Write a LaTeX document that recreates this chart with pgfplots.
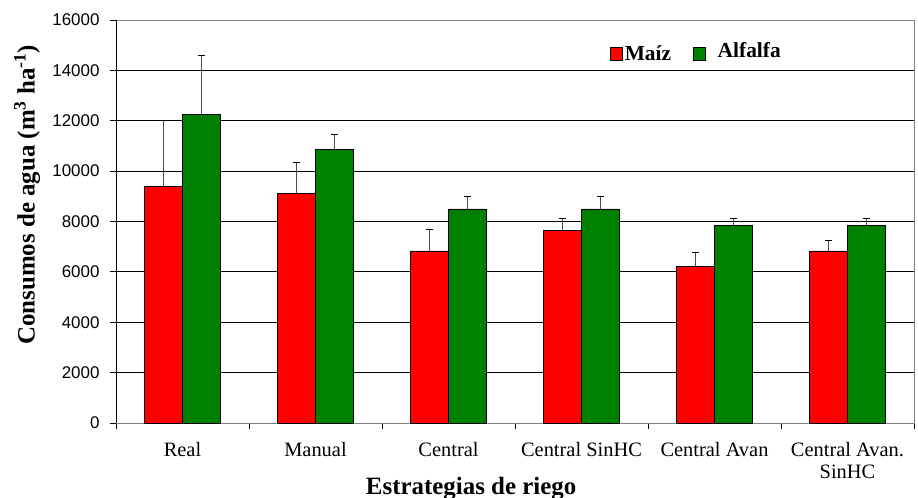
\documentclass[border=0pt]{standalone}
\usepackage{fontspec}
\setmainfont{Liberation Serif}
\setsansfont{Liberation Sans}
\usepackage{pgfplots}
\usepackage{pgfplotstable}
\pgfplotsset{compat=1.18}

\definecolor{barred}{RGB}{255,0,0}
\definecolor{bargreen}{RGB}{0,128,0}

% consumo de agua por estrategia (m3/ha), error = solo hacia arriba
\pgfplotstableread{
cat maiz maizerr alf alferr
0 9400 2600 12250 2330
1 9130 1230 10870 590
2 6830 860 8500 510
3 7650 480 8500 510
4 6230 560 7850 280
5 6830 400 7850 280
}\riego

\begin{document}
\begin{tikzpicture}
\path[use as bounding box] (-116bp,-75bp) rectangle (802bp,423bp);
\begin{axis}[
    at={(0,0)}, anchor=south west,
    scale only axis,
    width=798bp, height=403bp,
    ybar=0pt,
    bar width=0.2857,
    xmin=-0.5, xmax=5.5,
    ymin=0, ymax=16000,
    ytick={0,2000,...,16000},
    scaled y ticks=false,
    xtick={0,...,5},
    xticklabels={Real, Manual, Central, Central SinHC, Central Avan, {Central Avan.\\SinHC}},
    minor xtick={-0.5,0.5,...,5.5},
    major x tick style={draw=none},
    minor tick length=6bp,
    major tick length=6bp,
    tick align=outside,
    xtick pos=bottom, ytick pos=left,
    tick style={black, line width=0.8bp},
    ymajorgrids,
    grid style={black, line width=0.8bp},
    axis line style={draw=black!50, line width=0.8bp},
    /pgf/number format/1000 sep={},
    /pgf/number format/assume math mode=true,
    y tick label style={font=\sffamily\fontsize{17}{19}\selectfont, xshift=-7bp},
    x tick label style={font=\fontsize{20.5}{22}\selectfont, align=center, anchor=north, yshift=-10bp},
    xlabel={Estrategias de riego},
    xlabel style={font=\bfseries\fontsize{25}{28}\selectfont, at={(axis description cs:0.445,-0.162)}, anchor=center},
    ylabel={Consumos de agua (m\textsuperscript{3} ha\textsuperscript{-1})},
    ylabel style={font=\bfseries\fontsize{25}{28}\selectfont, at={(axis description cs:-0.1115,0.566)}, anchor=center},
    legend columns=2,
    legend style={draw=none, fill=none, at={(rel axis cs:0.619,0.95)}, anchor=north west,
        font=\bfseries\fontsize{21.5}{23}\selectfont, inner sep=0pt,
        /tikz/every even column/.append style={column sep=20bp}},
    legend image code/.code={\draw[#1,draw=black] (0bp,-6.5bp) rectangle (12bp,6.5bp);},
    error bars/error bar style={black!70, line width=0.8bp},
    error bars/error mark options={black, line width=0.8bp, mark size=3.5bp, rotate=90},
]
\addplot[fill=barred, draw=black, line width=0.6bp,
    error bars/.cd, y dir=plus, y explicit]
    table[x=cat, y=maiz, y error=maizerr] {\riego};
\addplot[fill=bargreen, draw=black, line width=0.6bp,
    error bars/.cd, y dir=plus, y explicit]
    table[x=cat, y=alf, y error=alferr] {\riego};
\legend{Maíz, \hspace{10bp}\raisebox{6bp}{Alfalfa}}
\draw[black, line width=0.8bp] (rel axis cs:0,0) -- (rel axis cs:0,1);
\end{axis}
\end{tikzpicture}
\end{document}
